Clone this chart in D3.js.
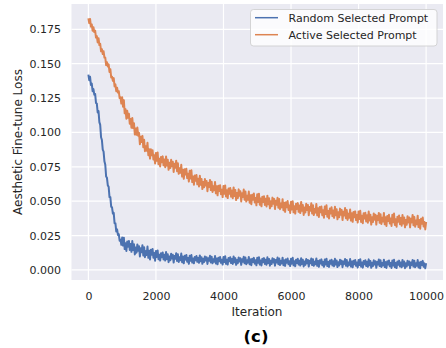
<!DOCTYPE html>
<html>
<head>
<meta charset="utf-8">
<script src="https://cdn.jsdelivr.net/npm/d3@7"></script>
<style>
  body { margin: 0; background: #fff; }
  svg { display: block; font-family: "DejaVu Sans", sans-serif; }
</style>
</head>
<body>
<svg id="chart" width="446" height="348"></svg>
<script>
// tick positions
const xTicks = [0, 2000, 4000, 6000, 8000, 10000];
const yTicks = [0, 0.025, 0.05, 0.075, 0.1, 0.125, 0.15, 0.175];

// loss values (x1000), one every 25 iterations
const randomLoss = [
  142,138,140.5,134.5,135.5,130,131.5,127.5,128,121.5,121,114.5,115.5,107.5,105.5,96.5,94.5,87.5,86,79,
  76.5,68,67,61.5,60.5,53,53,46,45.5,41,41.5,34,34,28,29.5,25.5,26,21.3,22,18.3,
  23.6,17.7,23.5,15.2,19.4,13.8,20.7,16.9,21.1,14.6,18.8,13.2,21,14.5,18.7,11.3,16.4,12.6,18.6,13.9,
  17.2,9.8,15.8,12.9,18,10.6,16.6,9.3,13.7,10.9,17,8.8,14,7.6,14.7,11,15.3,8.9,12.3,6.7,
  13.8,9.5,14.2,7.8,11.1,6.8,12.2,9.3,12.7,7.7,11.1,6.8,13,8,11.4,5.7,9.8,7,11.8,8.3,
  11,5.4,10.2,8.1,12.2,6.6,11.4,5.8,9.2,7.1,11.9,5.6,9.7,4.8,10.3,7.5,10.9,6,8.7,4.5,
  10.3,6.7,10.8,5.4,8.4,4.8,9.5,7.1,10.1,5.9,8.8,5.2,10.6,6.4,9.3,4.5,8.1,5.7,9.8,6.8,
  9.2,4.4,8.5,6.7,10.3,5.5,9.6,4.8,7.8,6,10.1,4.7,8.3,4.1,8.8,6.4,9.4,5.2,7.5,3.9,
  9.4,5.8,10,4.5,7.5,3.9,8.7,6.3,9.3,5,8,4.4,9.8,5.6,8.6,3.7,7.3,4.9,9.1,6.1,
  8.5,3.7,7.8,6,9.6,4.8,9,4.2,7.1,5.3,9.5,4.1,7.7,3.5,8.2,5.8,8.8,4.6,7,3.4,
  8.8,5.2,9.3,3.9,6.9,3.3,8.1,5.7,8.6,4.4,7.4,3.8,9.2,5,8,3.1,6.7,4.3,8.5,5.5,
  7.9,3.1,7.2,5.4,9,4.2,8.4,3.6,6.6,4.8,8.9,3.5,7.1,2.9,7.7,5.3,8.3,4.1,6.4,2.8,
  8.2,4.6,8.8,3.4,6.3,2.7,7.5,5.1,8.1,3.9,6.8,3.2,8.6,4.4,7.4,2.6,6.1,3.7,7.9,4.9,
  7.3,2.5,6.7,4.9,8.4,3.6,7.8,3,6,4.2,8.4,3,6.5,2.3,7.1,4.7,7.7,3.5,5.9,2.3,
  7.6,4,8.2,2.8,5.8,2.2,6.9,4.5,7.5,3.3,6.3,2.7,8.1,3.9,6.9,2.1,5.6,3.2,7.4,4.4,
  6.8,2,6.2,4.4,8,3.1,7.3,2.5,5.5,3.7,7.9,2.5,6.1,1.9,6.7,4.2,7.2,3,5.4,1.8,
  7.2,3.6,7.8,2.4,5.4,1.7,6.5,4.1,7.1,2.9,5.9,2.3,7.7,3.5,6.5,1.6,5.2,2.8,7,4,
  6.4,1.6,5.8,4,7.6,2.8,7,2.2,5.1,3.3,7.5,2.1,5.7,1.5,6.3,3.9,6.9,2.7,5.1,1.5,
  6.8,3.2,7.4,2,5,1.4,6.2,3.8,6.8,2.6,5.5,1.9,7.3,3.1,6.1,1.3,4.9,2.5,6.7,3.7,
  6.1,1.3,5.5,3.7,7.3,2.5,6.7,1.9,4.9,3.1,7.2,1.8,5.4,1.2,6,3.6,6.6,2.4,4.8,1.2,
  5
];
const activeLoss = [
  183,179.5,182.5,177,178.5,174,176.5,173,174,169,170,165.5,168.5,163.5,164.5,159,160.5,157,159,154.5,
  154.5,149,151,148,149.5,144,146,140,140.5,137.5,139.5,133.5,135,130,132.5,129,130,125,125.5,121,
  125.6,118.7,123.5,113.9,116.9,110,115.7,110.6,113.6,106.3,109.8,103.4,110.5,103.2,106.7,98.5,102.9,98.3,103.6,97.6,
  99.7,91.5,96.8,93.1,97.5,89.3,94.6,86.4,89.9,86.7,92.5,83.4,87.8,81,87.7,83.4,87.1,80.3,83.4,77.5,
  85.1,79.5,85.5,76.9,80.9,75.3,82.2,78.4,82.6,76.1,80.3,74.7,82.5,76,80.2,72.8,77.9,74.1,80.1,75.4,
  78.7,71.3,77.3,74.4,79.5,71.8,77.6,69.9,73.9,70.7,76.5,67.9,72.8,66.3,73.2,69.4,73.6,66.8,69.9,64.3,
  72.1,66.5,72.5,63.9,67.9,62,68.7,64.9,69.1,62.3,66.3,60.7,68.5,62,66.2,58.8,63.9,60.1,66.1,61.4,
  64.7,57.3,63.3,60.4,65.5,58.1,64.1,56.7,60.9,58,64,55.7,60.8,54.3,61.2,57.4,61.6,55.1,58.4,53,
  61.1,55.5,61.5,53.4,57.9,52.3,59.2,55.4,59.6,53.3,57.8,52.2,60,53.7,58.2,50.8,55.9,52.3,58.6,53.9,
  57.2,49.8,55.8,53.1,58.5,51.1,57.1,49.7,53.9,51,57,48.9,54.3,47.8,54.7,51.1,55.6,49.1,52.4,47,
  55.1,49.5,55.5,47.4,51.9,46.3,53.2,49.4,53.6,47.3,51.8,46.2,54,47.7,52.2,44.8,49.9,46.3,52.6,48.1,
  51.7,44.3,50.3,47.4,52.5,45.3,51.6,44.2,48.4,45.5,51.5,43.4,48.8,42.3,49.2,45.6,50.1,43.6,46.9,41.5,
  49.6,44,50,41.9,46.4,41,48.2,44.4,48.6,42.3,46.8,41.4,49.5,43,47.2,40,45.4,41.8,48.1,43.6,
  47.2,39.8,45.8,43.1,48.5,41.1,47.1,39.9,44.4,41.7,48,39.7,44.8,38.5,45.7,41.9,46.1,39.8,43.4,38,
  46.1,40.7,47,38.7,42.9,37.5,44.7,41.1,45.6,39.1,43.3,37.9,46,39.7,44.2,36.8,41.9,38.3,44.6,40.1,
  43.7,36.3,42.3,39.6,45,37.6,43.6,36.4,40.9,38,44,35.9,41.3,35,42.2,38.4,42.6,36.3,39.9,34.5,
  42.6,37,43,34.9,39.4,34,41.2,37.4,41.6,35.3,39.8,34.4,42.5,36,40.2,33,38.4,34.8,41.1,36.6,
  40.2,33,39.3,36.4,41.5,34.3,40.6,33.4,37.9,35.2,41.5,33.2,38.3,32,39.2,35.6,40.1,33.8,37.4,32,
  40.1,34.7,41,32.7,36.9,31.5,38.7,35.1,39.6,33.3,37.8,32.2,40,33.7,38.2,31,36.4,32.8,39.1,34.6,
  38.2,31,37.3,34.6,40,32.6,38.6,31.4,35.9,33.2,39.5,31.2,36.3,30,37.2,33.6,38.1,31.6,34.9,29.5,
  35
];
const iterations = d3.range(0, 10001, 25);

const series = [
  { name: "Random Selected Prompt", color: "#4C72B0", values: randomLoss },
  { name: "Active Selected Prompt", color: "#DD8452", values: activeLoss }
];

const svg = d3.select("#chart");
const plot = { left: 71.5, right: 443, top: 4, bottom: 280 };

const x = d3.scaleLinear().domain([-500, 10500]).range([plot.left, plot.right]);
const y = d3.scaleLinear().domain([-0.0073, 0.1934]).range([plot.bottom, plot.top]);

// background
svg.append("rect")
  .attr("x", plot.left).attr("y", plot.top)
  .attr("width", plot.right - plot.left).attr("height", plot.bottom - plot.top)
  .attr("fill", "#EAEAF2");

// grid
const grid = svg.append("g").attr("stroke", "#fff").attr("stroke-width", 1.2);
grid.selectAll(".gx").data(xTicks).enter().append("line")
  .attr("x1", d => x(d)).attr("x2", d => x(d))
  .attr("y1", plot.top).attr("y2", plot.bottom);
grid.selectAll(".gy").data(yTicks).enter().append("line")
  .attr("y1", d => y(d)).attr("y2", d => y(d))
  .attr("x1", plot.left).attr("x2", plot.right);

// axes
const xAxis = svg.append("g")
  .attr("transform", `translate(0,${plot.bottom})`)
  .call(d3.axisBottom(x).tickValues(xTicks).tickSize(0).tickPadding(12).tickFormat(d3.format("d")));
const yAxis = svg.append("g")
  .attr("transform", `translate(${plot.left},0)`)
  .call(d3.axisLeft(y).tickValues(yTicks).tickSize(0).tickPadding(10.5).tickFormat(d3.format(".3f")));
[xAxis, yAxis].forEach(a => {
  a.select(".domain").remove();
  a.selectAll("text").attr("fill", "#262626").style("font-size", "11px")
    .style("font-family", "DejaVu Sans, sans-serif");
});

// lines
const line = d3.line()
  .x((d, i) => x(iterations[i]))
  .y(d => y(d / 1000));
svg.append("g")
  .selectAll("path")
  .data(series)
  .enter()
  .append("path")
  .attr("d", d => line(d.values))
  .attr("fill", "none")
  .attr("stroke", d => d.color)
  .attr("stroke-width", 2)
  .attr("stroke-linejoin", "round");

// axis labels
svg.append("text")
  .attr("x", 257).attr("y", 316)
  .attr("text-anchor", "middle")
  .attr("fill", "#262626")
  .style("font-size", "12px")
  .text("Iteration");
svg.append("text")
  .attr("transform", `translate(22,${(plot.top + plot.bottom) / 2}) rotate(-90)`)
  .attr("text-anchor", "middle")
  .attr("fill", "#262626")
  .style("font-size", "12px")
  .text("Aesthetic Fine-tune Loss");
svg.append("text")
  .attr("x", 256).attr("y", 342)
  .attr("text-anchor", "middle")
  .attr("fill", "#000")
  .style("font-size", "16.5px")
  .style("font-weight", "bold")
  .text("(c)");

// legend
const legend = svg.append("g");
legend.append("rect")
  .attr("x", 250.5).attr("y", 9.5)
  .attr("width", 186.5).attr("height", 36.5)
  .attr("rx", 3)
  .attr("fill", "#fff").attr("fill-opacity", 0.8)
  .attr("stroke", "#ccc").attr("stroke-opacity", 0.8);
const items = legend.selectAll(".item").data(series).enter().append("g")
  .attr("transform", (d, i) => `translate(0,${17.7 + i * 17})`);
items.append("line")
  .attr("x1", 255).attr("x2", 278)
  .attr("stroke", d => d.color).attr("stroke-width", 1.5);
items.append("text")
  .attr("x", 288.5).attr("y", 4)
  .attr("fill", "#262626")
  .style("font-size", "11px")
  .text(d => d.name);
</script>
</body>
</html>
